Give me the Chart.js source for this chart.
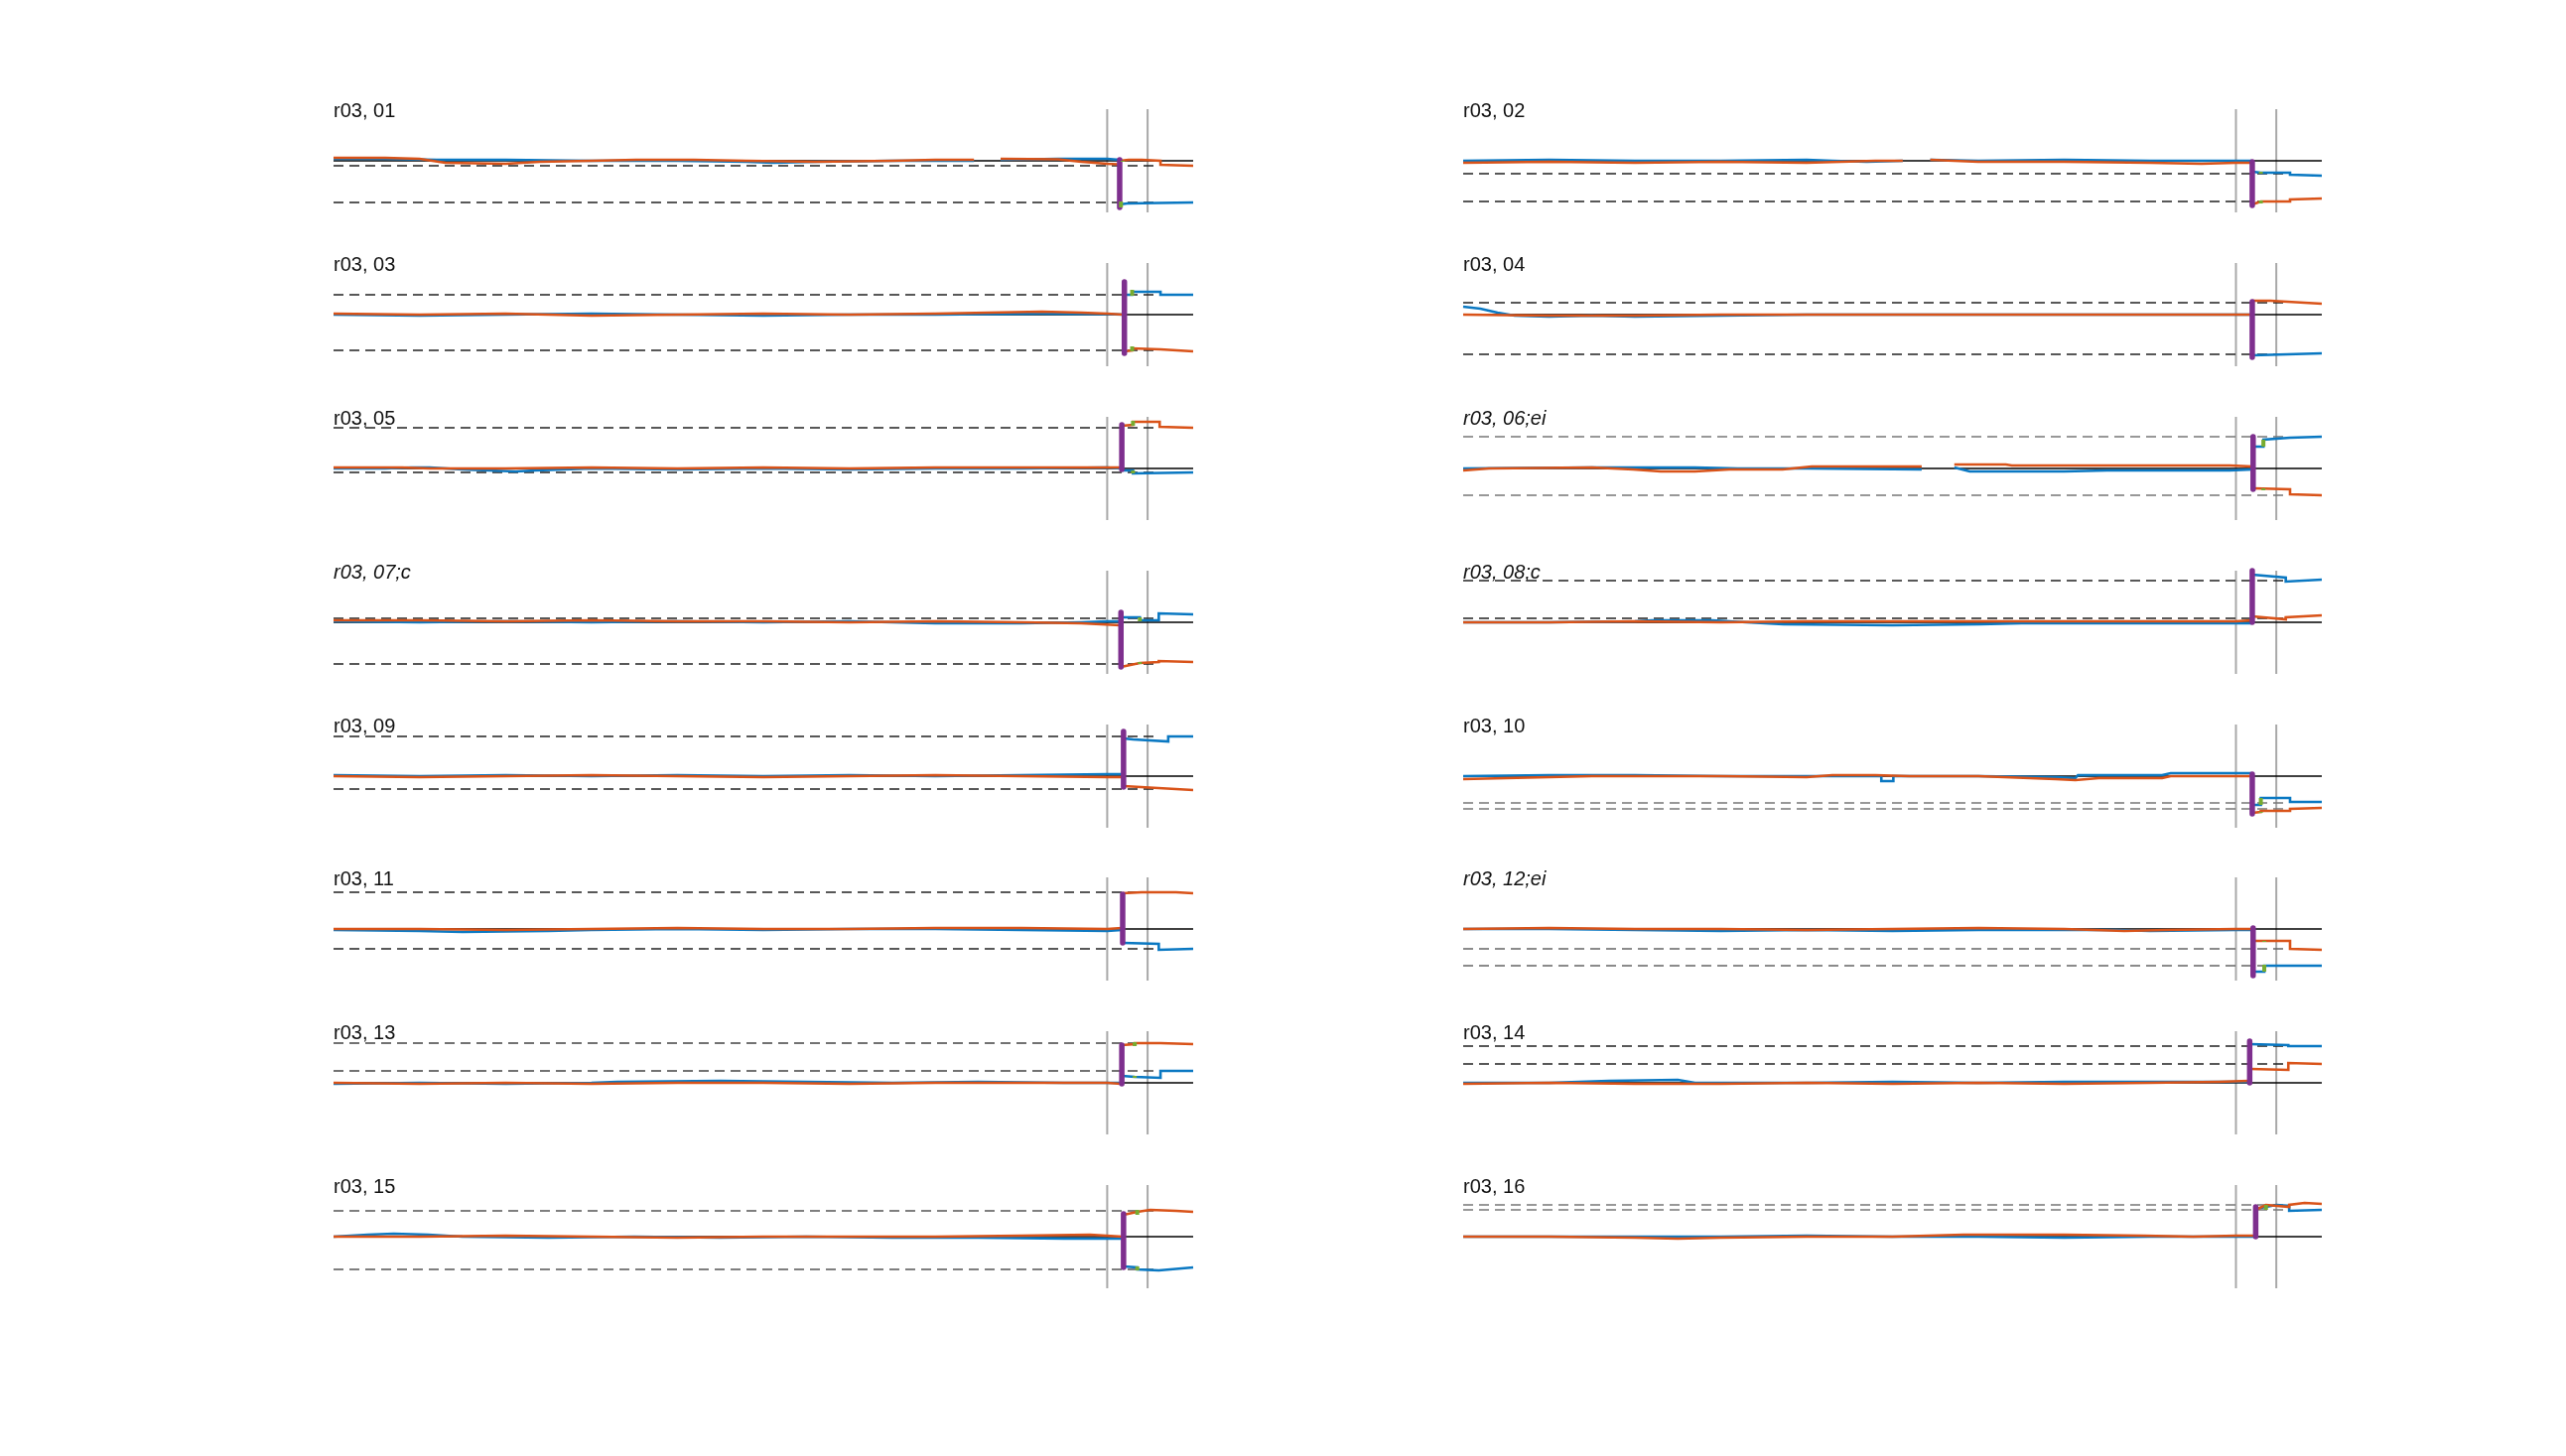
<!DOCTYPE html>
<html><head><meta charset="utf-8">
<script src="https://cdn.jsdelivr.net/npm/chart.js@4.4.1/dist/chart.umd.min.js"></script>
<style>
html,body{margin:0;padding:0;background:#fff;}
body{width:2585px;height:1467px;position:relative;overflow:hidden;}
canvas{position:absolute;}
.ttl{position:absolute;font-family:"Liberation Sans",Arial,Helvetica,sans-serif;font-size:20px;line-height:20px;color:#111;white-space:nowrap;}
.ttl.it{font-style:italic;}
</style></head><body>
<script>
// ---------- data (x: time units 0..1000, y: signal units, zero line = 0) ----------
const titles = ['r03, 01','r03, 02','r03, 03','r03, 04','r03, 05','r03, 06;ei','r03, 07;c','r03, 08;c',
                'r03, 09','r03, 10','r03, 11','r03, 12;ei','r03, 13','r03, 14','r03, 15','r03, 16'];
const italicTitles = [false,false,false,false,false,true,true,true,false,false,false,true,false,false,false,false];
const eventLines = [900, 947];
const dashEnd = 955;

const p01Dash = [-5, -42];
const p01Blue = [[0,2],[60,2],[120,1],[200,1],[300,0],[400,0],[480,-1],[512,-2],[560,-1],[650,0],[745,0],[760,null],[776,1],[843,2],[900,2],[914,1],[914.2,null],[914.5,-44],[923,-43],[960,-42.5],[1000,-42]];
const p01Orange = [[0,3],[60,3],[100,2],[130,-2],[200,-3],[240,-1],[300,0],[352,1],[419,1],[480,0],[560,-1],[650,0],[700,1],[745,1],[760,null],[776,2],[843,1.5],[870,-1],[900,-3],[912,-3.5],[913,null],[914.5,0],[925,1],[940,1],[962,0],[962,-4],[980,-4.5],[1000,-5]];
const p01Purple = [[914.5,1],[914.5,-47]];
const p01Green = [[916,-41],[916,-47],[917,null],[918,0],[918,-1]];

const p02Dash = [-13, -41];
const p02Blue = [[0,0],[100,1],[200,0],[300,0],[400,1],[430,0],[470,-1],[512,0],[528,null],[544,1],[600,0],[700,1],[800,0],[900,0],[918,0],[918.5,null],[919,-11],[929,-12],[963,-12],[963,-14],[1000,-15]];
const p02Orange = [[0,-2],[100,-1],[200,-2],[300,-1],[400,-2],[440,-1],[480,0],[512,0],[528,null],[544,1],[600,-1],[700,-1],[800,-2],[860,-3],[900,-2],[918,-2],[918.5,null],[919,-44],[929,-41],[963,-41],[963,-39],[1000,-38]];
const p02Purple = [[919,-1],[919,-45]];
const p02Green = [[929,-11],[929,-13],[930,null],[929,-40],[929,-43]];

const p03Dash = [20, -36];
const p03Blue = [[0,0],[100,-1],[200,0],[300,1],[400,0],[500,-1],[600,0],[700,0],[824,1],[900,0.5],[919,0],[919.5,null],[920,20],[929,20],[929,23],[962,23],[962,20],[1000,20]];
const p03Orange = [[0,1],[100,0],[200,1],[300,-1],[400,0],[500,1],[600,0],[700,1],[824,3],[870,2],[900,1],[919,0],[919.5,null],[920,-37],[929,-36],[929,-34],[962,-35],[1000,-37]];
const p03Purple = [[920,33],[920,-39]];
const p03Green = [[929,19],[929,25],[930,null],[929,-32],[929,-37]];

const p04Dash = [12, -40];
const p04Blue = [[0,8],[20,6],[40,2],[60,-1],[100,-2],[150,-1],[200,-2],[300,-1],[400,0],[500,0],[600,0],[700,0],[800,0],[918,0],[918.5,null],[919,-41],[960,-40],[1000,-39]];
const p04Orange = [[0,0],[100,-1],[200,-1],[300,0],[400,0],[500,0],[600,0],[700,0],[800,0],[918,0],[918.5,null],[919,14],[940,14],[1000,11]];
const p04Purple = [[919,13],[919,-43]];
const p04Green = [];

const p05Dash = [41, -4];
const p05Blue = [[0,0],[60,0],[90,1],[112,1],[150,-1],[212,-3],[235,-2],[300,0],[400,-1],[500,0],[600,-1],[700,0],[800,0],[900,1],[916,0],[916.5,null],[917,-2],[930,-2],[930,-5],[1000,-4]];
const p05Orange = [[0,1],[80,1],[112,0],[200,0],[300,1],[400,0],[500,1],[600,0],[700,1],[800,1],[900,1],[916,1],[916.5,null],[917,43],[930,44],[930,47],[961,47],[961,42],[1000,41]];
const p05Purple = [[917,44],[917,-1]];
const p05Green = [[930,43],[930,48],[931,null],[930,-2],[930,-5]];

const p06Dash = [32, -27];
const p06Blue = [[0,0],[150,1],[198,1],[270,1],[320,0],[400,0],[534,-1],[550,null],[572,1],[590,-3],[700,-3],[750,-2],[893,-2],[919,-1],[919.5,null],[920,22],[932,22],[932,29],[963,31],[1000,32]];
const p06Orange = [[0,-2],[30,0],[150,1],[198,-1],[230,-3],[270,-3],[310,-1],[372,-1],[406,2],[534,2],[550,null],[572,4],[632,4],[639,3],[893,3],[919,2],[919.5,null],[920,-20],[963,-21],[963,-26],[1000,-27]];
const p06Purple = [[920,32],[920,-21]];
const p06Green = [[932,22],[932,29],[933,null],[932,-20],[932,-22]];

const p07Dash = [4, -42];
const p07Blue = [[0,1],[100,0],[200,1],[300,0],[400,1],[500,0],[600,1],[700,-1],[800,-1],[870,0],[900,1],[915,1],[915.5,null],[916,5],[938,5],[938,2],[960,2],[960,9],[1000,8]];
const p07Orange = [[0,2],[100,2],[200,1],[300,2],[400,1],[500,1],[600,0],[700,1],[800,0],[870,-1],[915,-3],[915.5,null],[916,-45],[938,-41],[960,-40],[960,-39],[1000,-40]];
const p07Purple = [[916,10],[916,-45]];
const p07Green = [[938,5],[938,1],[939,null],[938,-40],[938,-42]];

const p08Dash = [42, 4];
const p08Blue = [[0,0],[100,0],[200,1],[220,2],[290,2],[330,0],[373,-2],[500,-3],[602,-2],[650,-1],[800,-1],[900,-1],[918,-1],[918.5,null],[919,48],[958,45],[958,41],[1000,43]];
const p08Orange = [[0,0],[100,0],[200,1],[300,0],[400,1],[500,1],[600,1],[700,1],[800,1],[900,1],[918,2],[918.5,null],[919,6],[958,3],[958,5],[1000,7]];
const p08Purple = [[919,52],[919,0]];
const p08Green = [];

const p09Dash = [40, -13];
const p09Blue = [[0,1],[100,0],[200,1],[300,0],[400,1],[500,0],[600,1],[700,0],[800,1],[900,2],[918,2],[918.5,null],[919,38],[930,37],[971,35],[971,40],[1000,40]];
const p09Orange = [[0,0],[100,-1],[200,0],[300,1],[400,0],[500,-1],[600,0],[700,1],[800,0],[900,-1],[918,-1],[918.5,null],[919,-10],[1000,-14]];
const p09Purple = [[919,45],[919,-11]];
const p09Green = [];

const p10Dash = [-27, -33];
const p10Blue = [[0,0],[100,1],[200,1],[300,0],[400,0],[487,0],[487,-5],[501,-5],[501,0],[600,0],[690,-1],[713,-2],[716,1],[814,1],[824,3],[918,3],[918.5,null],[919,-29],[929,-29],[929,-22],[963,-22],[963,-26],[1000,-26]];
const p10Orange = [[0,-3],[50,-2],[100,-1],[150,0],[300,0],[400,-1],[430,1],[480,1],[520,0],[600,0],[690,-3],[713,-4],[740,-2],[814,-2],[824,0],[918,0],[918.5,null],[919,-37],[929,-36],[929,-35],[963,-35],[963,-33],[1000,-32]];
const p10Purple = [[919,2],[919,-38]];
const p10Green = [[929,-29],[929,-22],[930,null],[929,-36],[929,-37]];

const p11Dash = [37, -20];
const p11Blue = [[0,-1],[100,-2],[150,-3],[250,-2],[300,-1],[400,0],[500,-1],[600,0],[700,0],[800,-1],[900,-2],[917,-1],[917.5,null],[918,-14],[960,-15],[960,-21],[1000,-20]];
const p11Orange = [[0,0],[100,0],[200,-1],[300,0],[400,1],[500,0],[600,0],[700,1],[800,1],[900,0],[917,1],[917.5,null],[918,36],[940,37],[980,37],[1000,36]];
const p11Purple = [[918,35],[918,-14]];
const p11Green = [];

const p12Dash = [-20, -37];
const p12Blue = [[0,0],[100,0],[200,-1],[300,-2],[400,-1],[500,-2],[600,-1],[700,-1],[760,-1],[800,-2],[900,-1],[919,-1],[919.5,null],[920,-43],[933,-43],[933,-37],[1000,-37]];
const p12Orange = [[0,0],[100,1],[200,0],[300,0],[400,-1],[500,0],[600,1],[700,0],[770,-2],[820,-1],[900,0],[919,0],[919.5,null],[920,-12],[963,-12],[963,-20],[1000,-21]];
const p12Purple = [[920,1],[920,-47]];
const p12Green = [[933,-36],[933,-43],[934,null],[933,-12],[933,-13]];

const p13Dash = [40, 12];
const p13Blue = [[0,-1],[100,0],[200,-1],[300,0],[330,1],[450,2],[550,1],[650,0],[750,1],[850,0],[916,0],[916.5,null],[917,7],[932,6],[962,5],[962,12],[1000,12]];
const p13Orange = [[0,0],[100,-1],[200,0],[300,-1],[400,0],[500,0],[600,-1],[700,0],[800,0],[900,0],[916,-1],[916.5,null],[917,38],[932,39],[932,40],[962,40],[1000,39]];
const p13Purple = [[917,38],[917,-1]];
const p13Green = [[932,37],[932,41],[933,null],[932,5],[932,7]];

const p14Dash = [37, 19];
const p14Blue = [[0,0],[100,0],[170,2],[250,3],[270,0],[400,0],[500,1],[600,0],[700,1],[800,1],[900,1],[915,1],[915.5,null],[916,39],[961,38],[961,37],[1000,37]];
const p14Orange = [[0,-1],[100,0],[200,-1],[300,-1],[400,0],[500,-1],[600,0],[700,-1],[800,0],[880,1],[915,2],[915.5,null],[916,14],[961,13],[961,20],[1000,19]];
const p14Purple = [[916,42],[916,0]];
const p14Green = [];

const p15Dash = [26, -33];
const p15Blue = [[0,0],[40,2],[70,3],[110,2],[150,0],[250,-1],[350,0],[450,-1],[550,0],[650,-1],[750,-1],[850,-2],[918,-2],[918.5,null],[919,-30],[935,-31],[935,-33],[960,-34],[1000,-31]];
const p15Orange = [[0,0],[100,0],[200,1],[300,0],[400,-1],[500,0],[600,0],[700,0],[800,1],[880,2],[918,0],[918.5,null],[919,22],[935,25],[950,27],[980,26],[1000,25]];
const p15Purple = [[919,23],[919,-31]];
const p15Green = [[935,22],[935,27],[936,null],[935,-30],[935,-34]];

const p16Dash = [32, 27];
const p16Blue = [[0,0],[100,0],[200,0],[300,0],[400,1],[500,0],[600,0],[700,-1],[800,0],[900,0],[922,0],[922.5,null],[923,28],[947,32],[962,31],[962,26],[1000,27]];
const p16Orange = [[0,0],[100,0],[200,-1],[250,-2],[300,-1],[400,0],[500,0],[583,2],[700,2],[793,1],[850,0],[900,1],[922,1],[922.5,null],[923,27],[935,32],[962,30],[962,32],[980,34],[1000,33]];
const p16Purple = [[923,30],[923,0]];
const p16Green = [[935,27],[935,32]];

// ---------- styles ----------
const dashColors = ['#222','#222','#222','#222','#222','#777','#222','#222','#222','#777','#222','#666','#444','#222','#555','#777'];
const C = {blue:'#0a78c2', orange:'#D95319', purple:'#7E2F8E', green:'#77AC30', vline:'#a8a8a8', zero:'#000'};
const colLeft = [336, 1474], colWidth = [866, 865];
const rowTop = [110, 265, 420, 575, 730, 884, 1039, 1194];
const plotH = 104, pad = 14;

const panels = [
 [p01Blue,p01Orange,p01Purple,p01Green,p01Dash],[p02Blue,p02Orange,p02Purple,p02Green,p02Dash],
 [p03Blue,p03Orange,p03Purple,p03Green,p03Dash],[p04Blue,p04Orange,p04Purple,p04Green,p04Dash],
 [p05Blue,p05Orange,p05Purple,p05Green,p05Dash],[p06Blue,p06Orange,p06Purple,p06Green,p06Dash],
 [p07Blue,p07Orange,p07Purple,p07Green,p07Dash],[p08Blue,p08Orange,p08Purple,p08Green,p08Dash],
 [p09Blue,p09Orange,p09Purple,p09Green,p09Dash],[p10Blue,p10Orange,p10Purple,p10Green,p10Dash],
 [p11Blue,p11Orange,p11Purple,p11Green,p11Dash],[p12Blue,p12Orange,p12Purple,p12Green,p12Dash],
 [p13Blue,p13Orange,p13Purple,p13Green,p13Dash],[p14Blue,p14Orange,p14Purple,p14Green,p14Dash],
 [p15Blue,p15Orange,p15Purple,p15Green,p15Dash],[p16Blue,p16Orange,p16Purple,p16Green,p16Dash]
];

const pts = a => a.map(p => ({x:p[0], y:p[1]}));
const YMIN = -52, YMAX = 52, XMIN = 0, XMAX = 1000;

panels.forEach((p, k) => {
  const col = k % 2, row = Math.floor(k / 2);
  const [blue, orange, purple, green, dash] = p;
  const cv = document.createElement('canvas');
  const w = colWidth[col] + 2*pad, h = plotH + 2*pad;
  cv.width = w; cv.height = h;
  cv.style.width = w + 'px'; cv.style.height = h + 'px';
  cv.style.left = (colLeft[col] - pad) + 'px';
  cv.style.top = (rowTop[row] - pad) + 'px';
  document.body.appendChild(cv);

  const t = document.createElement('div');
  t.className = 'ttl' + (italicTitles[k] ? ' it' : '');
  t.textContent = titles[k];
  t.style.left = colLeft[col] + 'px';
  t.style.top = (rowTop[row] - 9) + 'px';
  document.body.appendChild(t);

  const ds = [];
  eventLines.forEach(x => ds.push({data: pts([[x,YMIN],[x,YMAX]]), borderColor: C.vline, borderWidth: 2, order: 20, clip: pad}));
  dash.forEach(v => ds.push({data: pts([[XMIN,v],[dashEnd,v]]), borderColor: dashColors[k], borderWidth: 1.6, borderDash: [10,6], order: 19, clip: pad}));
  ds.push({data: pts([[XMIN,0],[XMAX,0]]), borderColor: C.zero, borderWidth: 1.3, order: 18, clip: pad});
  ds.push({data: pts(blue), borderColor: C.blue, borderWidth: 2.6, order: 5, clip: pad});
  ds.push({data: pts(orange), borderColor: C.orange, borderWidth: 2.6, order: 4, clip: pad});
  ds.push({data: pts(purple), borderColor: C.purple, borderWidth: 5.5, borderCapStyle: 'round', order: 2, clip: pad});
  if (green.length) ds.push({data: pts(green), borderColor: C.green, borderWidth: 4, order: 1, clip: pad});

  new Chart(cv, {
    type: 'line',
    data: {datasets: ds},
    options: {
      responsive: false, animation: false, events: [],
      layout: {padding: pad},
      plugins: {legend: {display: false}, tooltip: {enabled: false}, title: {display: false}},
      elements: {point: {radius: 0}, line: {tension: 0, fill: false}},
      scales: {
        x: {type: 'linear', min: XMIN, max: XMAX, display: false},
        y: {type: 'linear', min: YMIN, max: YMAX, display: false}
      }
    }
  });
});
</script>
</body></html>
